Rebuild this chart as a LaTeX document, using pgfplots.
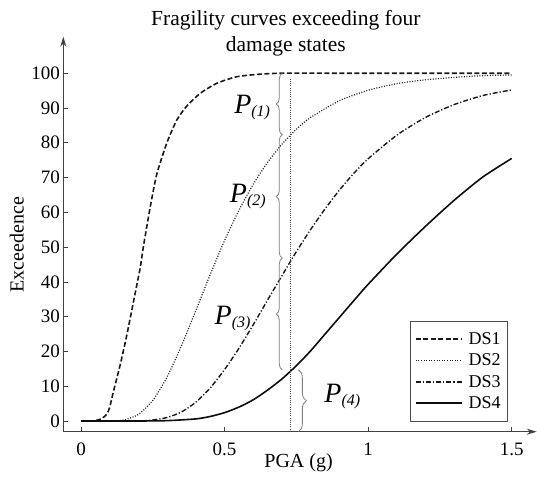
\documentclass[border=0pt]{standalone}
\usepackage{pgfplots}
\pgfplotsset{compat=1.18}
\usepackage{pgfplotstable}
\usepackage{fontspec}
\setmainfont{Liberation Serif}
\usetikzlibrary{decorations.pathreplacing, arrows.meta}

\pgfplotstableread{
x y
0 0
0.04 0
0.07 0.6
0.09 2.0
0.10 4.0
0.113 8.5
0.136 16
0.159 24.5
0.182 34
0.206 44
0.217 50
0.241 61.5
0.264 71
0.299 80
0.334 86.6
0.369 90.6
0.415 94.2
0.473 97.1
0.543 99
0.62 99.7
0.70 100
0.9 100
1.2 100
1.5 100
}\dsone

\pgfplotstableread{
x y
0 0
0.10 0
0.15 0.3
0.20 1.9
0.25 5.9
0.30 12.7
0.35 21.7
0.40 31.8
0.45 42.1
0.50 51.9
0.55 60.6
0.60 68.1
0.65 74.4
0.70 79.6
0.75 83.9
0.80 87.3
0.90 92.1
1.00 95.1
1.10 97.0
1.20 98.1
1.30 98.8
1.40 99.3
1.50 99.5
}\dstwo

\pgfplotstableread{
x y
0 0
0.20 0
0.25 0.3
0.30 1.0
0.35 2.6
0.40 5.4
0.45 9.5
0.50 14.8
0.55 20.9
0.60 27.7
0.65 34.8
0.70 41.8
0.75 48.7
0.80 55.1
0.85 61.0
0.90 66.4
0.95 71.2
1.00 75.4
1.10 82.2
1.20 87.3
1.30 91.0
1.40 93.6
1.50 95.2
}\dsthree

\pgfplotstableread{
x y
0 0
0.20 0
0.30 0.1
0.40 0.6
0.45 1.3
0.50 2.4
0.55 4.0
0.60 6.1
0.65 8.9
0.70 12.1
0.75 15.9
0.80 20.2
0.85 25.0
0.90 29.8
0.95 34.6
1.00 39.3
1.10 48.0
1.20 56.0
1.30 63.5
1.40 70.2
1.50 75.5
}\dsfour

\begin{document}
\begin{tikzpicture}
\begin{axis}[
  scale only axis,
  width=473.4bp, height=395bp,
  xmin=-0.0617, xmax=1.587,
  ymin=-3.08, ymax=110.5,
  axis lines=left,
  axis line style={draw=black!75, line width=0.9bp, -{Stealth[length=10bp,width=6bp]}},
  xtick={0,0.5,1,1.5},
  xticklabels={0,0.5,1,1.5},
  ytick={0,10,...,100},
  tick align=inside,
  major tick length=5bp,
  tick style={draw=black!75, line width=0.6bp},
  tick label style={font=\fontsize{19bp}{22bp}\selectfont},
  xticklabel style={yshift=-8bp},
  /pgf/number format/assume math mode=true,
  xlabel={PGA (g)},
  ylabel={Exceedence},
  label style={font=\fontsize{20bp}{24bp}\selectfont},
  xlabel style={at={(axis description cs:0.497,-0.079)}, anchor=center},
  ylabel style={at={(axis description cs:-0.098,0.473)}, anchor=center},
  title={Fragility curves exceeding four\\damage states},
  title style={at={(axis description cs:0.470,0.948)}, anchor=base, align=center, font=\fontsize{21.5bp}{26bp}\selectfont},
  legend cell align=left,
  legend image code/.code={\draw[#1] (0bp,0bp) -- (46bp,0bp); \path (50bp,0bp);},
  legend style={at={(axis description cs:0.939,0.280)}, anchor=north east,
    draw=black!70, line width=0.6bp, font=\fontsize{18bp}{20bp}\selectfont,
    inner xsep=5bp, inner ysep=9bp, row sep=4bp},
]
\addplot[black!90, line width=1.6bp, dash pattern=on 5bp off 2.5bp, smooth, tension=0.4] table {\dsone};
\addlegendentry{DS1}
\addplot[black!90, line width=1.2bp, dash pattern=on 1bp off 1.6bp, smooth, tension=0.4] table {\dstwo};
\addlegendentry{DS2}
\addplot[black!90, line width=1.4bp, dash pattern=on 5bp off 2bp on 1.2bp off 2bp, smooth, tension=0.4] table {\dsthree};
\addlegendentry{DS3}
\addplot[black!95, line width=1.6bp, smooth, tension=0.4] table {\dsfour};
\addlegendentry{DS4}

\addplot[black!70, line width=0.8bp, dash pattern=on 1bp off 1.2bp, forget plot] coordinates {(0.73,-3.08) (0.73,98.6)};

\draw[decorate, decoration={brace, amplitude=6bp}, black!50, line width=0.8bp] (axis cs:0.701,82.3) -- (axis cs:0.701,100);
\draw[decorate, decoration={brace, amplitude=6bp}, black!50, line width=0.8bp] (axis cs:0.701,46.8) -- (axis cs:0.701,82.3);
\draw[decorate, decoration={brace, amplitude=6bp}, black!50, line width=0.8bp] (axis cs:0.701,14.7) -- (axis cs:0.701,46.8);
\draw[decorate, decoration={brace, amplitude=8bp}, black!50, line width=0.8bp] (axis cs:0.757,14.7) -- (axis cs:0.757,-3.08);

\node at (axis cs:0.596,90) {\fontsize{28bp}{28bp}\selectfont\itshape P\raisebox{-3bp}{\fontsize{16bp}{16bp}\selectfont (1)}};
\node at (axis cs:0.581,64.4) {\fontsize{28bp}{28bp}\selectfont\itshape P\raisebox{-3bp}{\fontsize{16bp}{16bp}\selectfont (2)}};
\node at (axis cs:0.528,29.6) {\fontsize{28bp}{28bp}\selectfont\itshape P\raisebox{-3bp}{\fontsize{16bp}{16bp}\selectfont (3)}};
\node at (axis cs:0.910,6.9) {\fontsize{28bp}{28bp}\selectfont\itshape P\raisebox{-3bp}{\fontsize{16bp}{16bp}\selectfont (4)}};
\end{axis}
\pgfresetboundingbox
\path[use as bounding box] (-63.3bp,-52.3bp) rectangle (473.7bp,431.7bp);
\end{tikzpicture}
\end{document}
